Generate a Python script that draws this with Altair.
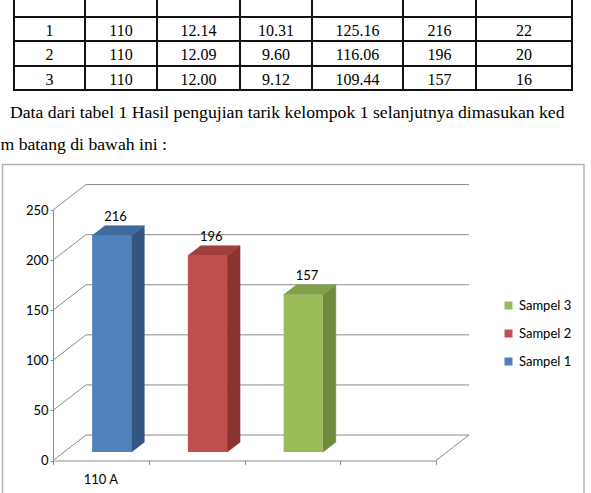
import altair as alt
import pandas as pd

# ---------------- data ----------------
sampel = ["Sampel 1", "Sampel 2", "Sampel 3"]
nilai = [216, 196, 157]
kategori = ["110 A"]
sumbu_y = [0, 50, 100, 150, 200, 250]
x_ticks = [0, 1, 2, 3, 4]

warna_depan = ["#4F81BD", "#C0504D", "#9BBB59"]
warna_samping = ["#34557F", "#8A3432", "#6F893E"]
warna_atas = ["#41699E", "#A0403D", "#82A049"]

# table shown above the chart (page context)
tbl_no = ["1", "2", "3"]
tbl_arus = ["110", "110", "110"]
tbl_c3 = ["12.14", "12.09", "12.00"]
tbl_c4 = ["10.31", "9.60", "9.12"]
tbl_c5 = ["125.16", "116.06", "109.44"]
tbl_c6 = ["216", "196", "157"]
tbl_c7 = ["22", "20", "16"]

teks_1 = "Data dari tabel 1 Hasil pengujian tarik kelompok 1 selanjutnya dimasukan ked"
teks_2 = "m batang di bawah ini :"

# ---------------- layout constants ----------------
COL_EDGES = [14, 85, 157, 240, 312, 403, 476, 572]
ROW_EDGES = [17, 41, 66, 90]
PAR_X = [10, 0.5]
PAR_Y = [117.7, 150]
SERIF = "Liberation Serif, Tinos, Times New Roman, DejaVu Serif, serif"

DX = 0.3446   # depth in category units
DY = 25.4     # depth in value units
F0 = 0.33     # bar front position within depth
FD = 0.39     # bar depth fraction
W = 0.41      # bar width (category units)
ddx = FD * DX
ddy = FD * DY

xs = alt.Scale(domain=[0, 4], range=[53, 436], nice=False, zero=False)
ys = alt.Scale(domain=[0, 250], range=[460.5, 210], nice=False, zero=False)

GRID = "#8C8C8C"
FONT = "Lato"

x_axis = alt.Axis(orient="bottom", values=x_ticks, labels=False, tickSize=4, offset=-32.5,
                  grid=False, domainColor=GRID, tickColor=GRID, title=None)
y_axis = alt.Axis(orient="left", values=sumbu_y, tickSize=3, labelPadding=2, offset=-53,
                  grid=False, domainColor=GRID, tickColor=GRID, labelFont=FONT,
                  labelFontSize=13, labelColor="#000000", title=None)

# ---------------- chart geometry ----------------
front_rows, face_rows, label_rows = [], [], []
for i, (s, v) in enumerate(zip(sampel, nilai)):
    c = i + 0.5
    L = c - W / 2 + F0 * DX
    R = L + W
    b = F0 * DY
    t = b + v
    front_rows.append(dict(sampel=s, x=L, x2=R, y=b, y2=t))
    face_rows += [
        dict(face=f"s{i}", col=warna_samping[i], x=R, y=b, y2=t),
        dict(face=f"s{i}", col=warna_samping[i], x=R + ddx, y=b + ddy, y2=t + ddy),
        dict(face=f"t{i}", col=warna_atas[i], x=L, y=t, y2=t),
        dict(face=f"t{i}", col=warna_atas[i], x=L + ddx, y=t, y2=t + ddy),
        dict(face=f"t{i}", col=warna_atas[i], x=R, y=t, y2=t + ddy),
        dict(face=f"t{i}", col=warna_atas[i], x=R + ddx, y=t + ddy, y2=t + ddy),
    ]
    label_rows.append(dict(x=c + F0 * DX + 0.04, y=t + ddy, teks=str(v)))

grid_rows = []
for v in sumbu_y:
    grid_rows.append(dict(x=DX, x2=4 + DX, y=v + DY, y2=v + DY))
    grid_rows.append(dict(x=0, x2=DX, y=v, y2=v + DY))
grid_rows.append(dict(x=4, x2=4 + DX, y=0, y2=DY))

df_front = pd.DataFrame(front_rows)
df_face = pd.DataFrame(face_rows)
df_label = pd.DataFrame(label_rows)
df_grid = pd.DataFrame(grid_rows)
df_kat = pd.DataFrame(dict(x=[0.5], y=[0], teks=kategori))

grid = alt.Chart(df_grid).mark_rule(color=GRID, strokeWidth=1).encode(
    x=alt.X("x:Q", scale=xs, axis=x_axis), x2="x2:Q",
    y=alt.Y("y:Q", scale=ys, axis=y_axis), y2="y2:Q")

faces = alt.Chart(df_face).mark_area(orient="vertical", interpolate="linear", strokeWidth=0.6).encode(
    x=alt.X("x:Q", scale=xs, axis=x_axis),
    y=alt.Y("y:Q", scale=ys, axis=y_axis, stack=None), y2="y2:Q",
    detail="face:N",
    color=alt.Color("col:N", scale=None),
    stroke=alt.Stroke("col:N", scale=None))

front = alt.Chart(df_front).mark_rect(strokeWidth=0).encode(
    x=alt.X("x:Q", scale=xs, axis=x_axis), x2="x2:Q",
    y=alt.Y("y:Q", scale=ys, axis=y_axis), y2="y2:Q",
    color=alt.Color("sampel:N",
                    scale=alt.Scale(domain=sampel[::-1], range=warna_depan[::-1]),
                    legend=alt.Legend(orient="none", legendX=502, legendY=299, title=None,
                                      symbolType="square", symbolSize=64, symbolStrokeWidth=0,
                                      labelFont=FONT, labelFontSize=13, labelColor="#000000",
                                      labelOffset=4, rowPadding=14, padding=0)))

labels = alt.Chart(df_label).mark_text(font=FONT, fontSize=13, color="#000000",
                                       baseline="alphabetic", dy=-4.5).encode(
    x=alt.X("x:Q", scale=xs, axis=x_axis),
    y=alt.Y("y:Q", scale=ys, axis=y_axis), text="teks:N")

kat = alt.Chart(df_kat).mark_text(font=FONT, fontSize=13, color="#000000",
                                  baseline="middle", dy=19.5).encode(
    x=alt.X("x:Q", scale=xs, axis=x_axis),
    y=alt.Y("y:Q", scale=ys, axis=y_axis), text="teks:N")

chart_group = alt.layer(grid, faces, front, labels, kat)

# ---------------- page context (table, paragraph, frame) ----------------
cols = [tbl_no, tbl_arus, tbl_c3, tbl_c4, tbl_c5, tbl_c6, tbl_c7]
cell_rows = []
for ci, col in enumerate(cols):
    for ri, val in enumerate(col):
        cell_rows.append(dict(px=(COL_EDGES[ci] + COL_EDGES[ci + 1]) / 2,
                              py=(ROW_EDGES[ri] + ROW_EDGES[ri + 1]) / 2 + 1.5,
                              teks=val))
df_cells = pd.DataFrame(cell_rows)

line_rows = []
for yv in ROW_EDGES:
    line_rows.append(dict(px=COL_EDGES[0] - 1, px2=COL_EDGES[-1] + 1, py=yv, py2=yv))
for xv in COL_EDGES:
    line_rows.append(dict(px=xv, px2=xv, py=-2, py2=ROW_EDGES[-1]))
df_lines = pd.DataFrame(line_rows)

df_par = pd.DataFrame(dict(px=PAR_X, py=PAR_Y, teks=[teks_1, teks_2]))
df_box = pd.DataFrame(dict(px=[2.5], px2=[584], py=[164.5], py2=[520]))

tbl_lines = alt.Chart(df_lines).mark_rule(color="#111111", strokeWidth=2).encode(
    x=alt.X("px:Q", scale=None), x2="px2:Q", y=alt.Y("py:Q", scale=None), y2="py2:Q")
tbl_text = alt.Chart(df_cells).mark_text(font=SERIF, fontSize=16,
                                         color="#000000", baseline="middle").encode(
    x=alt.X("px:Q", scale=None), y=alt.Y("py:Q", scale=None), text="teks:N")
par_text = alt.Chart(df_par).mark_text(font=SERIF, fontSize=17.7, color="#000000",
                                       align="left", baseline="alphabetic").encode(
    x=alt.X("px:Q", scale=None), y=alt.Y("py:Q", scale=None), text="teks:N")
box = alt.Chart(df_box).mark_rect(filled=False, stroke="#B4B4B4", strokeWidth=1.5).encode(
    x=alt.X("px:Q", scale=None), x2="px2:Q", y=alt.Y("py:Q", scale=None), y2="py2:Q")

page_group = alt.layer(box, tbl_lines, tbl_text, par_text)

chart = alt.layer(page_group, chart_group).resolve_scale(
    x="independent", y="independent", color="independent", stroke="independent"
).properties(
    width=591, height=493, padding=0,
    autosize=alt.AutoSizeParams(type="none"), background="#FFFFFF"
).configure_view(stroke=None)

chart.save("out.html", embed_options={"renderer": "svg", "actions": False})
